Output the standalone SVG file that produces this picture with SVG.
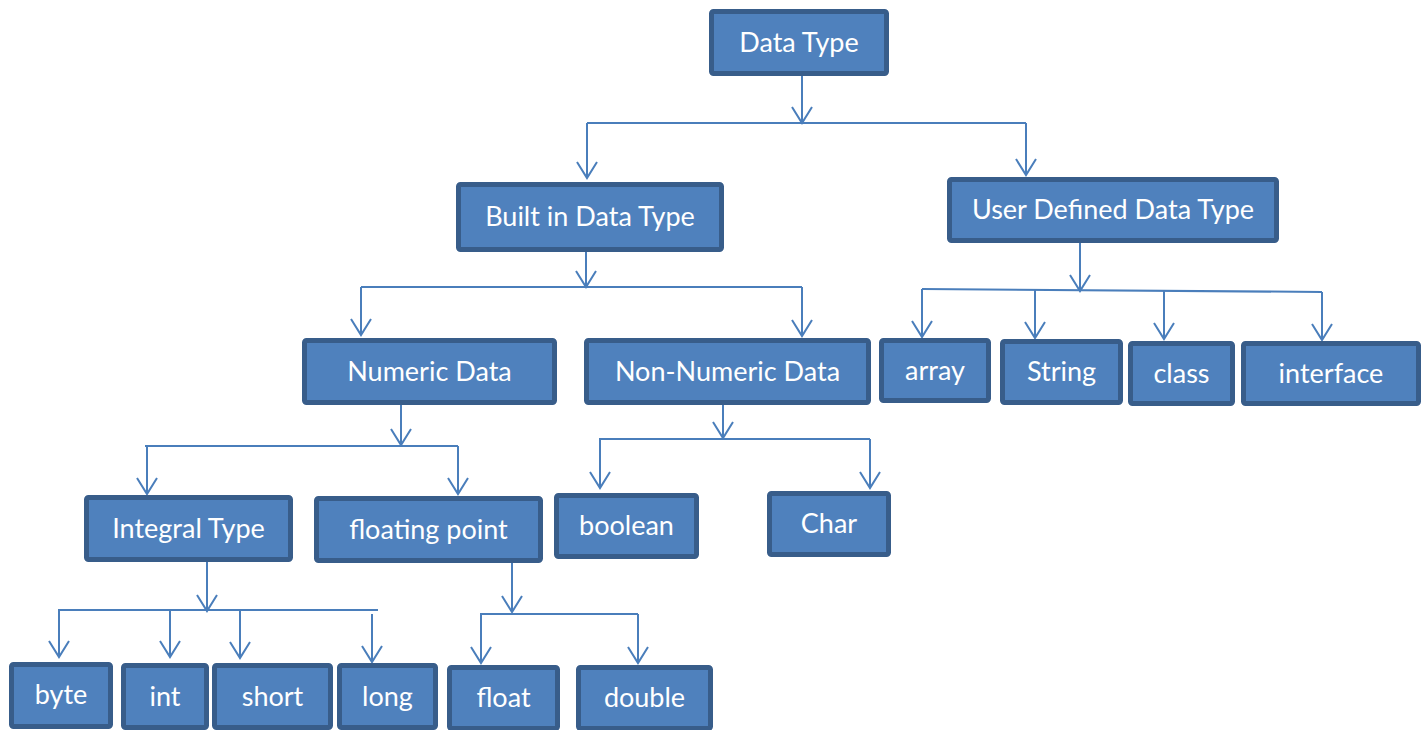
<svg xmlns="http://www.w3.org/2000/svg" width="1422" height="730" viewBox="0 0 1422 730">
<style>
.box{fill:#4F81BD;stroke:#385D8A;stroke-width:5}
.lbl{fill:#FFFFFF;font-family:Lato,"Open Sans","Liberation Sans",sans-serif;font-size:27px;text-anchor:middle}
.c{fill:none;stroke:#4A7EBB;stroke-width:2}
.a{marker-end:url(#arr)}
</style>
<defs>
<marker id="arr" markerUnits="userSpaceOnUse" orient="auto" markerWidth="20" markerHeight="24" refX="18" refY="11" viewBox="0 0 20 24" overflow="visible">
<path d="M2,1 L18,11 L2,21" fill="none" stroke="#4A7EBB" stroke-width="2"/>
</marker>
</defs>
<rect width="1422" height="730" fill="#FFFFFF"/>
<g id="connectors">
<path class="c a" d="M802,76 V123"/>
<path class="c" d="M587,123 H1026"/>
<path class="c a" d="M587,123 V178"/>
<path class="c a" d="M1026,123 V175"/>
<path class="c a" d="M586,252 V287"/>
<path class="c" d="M361,287 H802"/>
<path class="c a" d="M361,287 V335"/>
<path class="c a" d="M802,287 V336"/>
<path class="c a" d="M1080,243 V291"/>
<path class="c" d="M922,289 L1322,292"/>
<path class="c a" d="M922,289 V337"/>
<path class="c a" d="M1035,290 V338"/>
<path class="c a" d="M1164,291 V339"/>
<path class="c a" d="M1322,292 V340"/>
<path class="c a" d="M401,405 V445"/>
<path class="c" d="M145,446 H458"/>
<path class="c a" d="M147,446 V494"/>
<path class="c a" d="M458,446 V494"/>
<path class="c a" d="M723,405 V438"/>
<path class="c" d="M599,439 H870"/>
<path class="c a" d="M600,439 V488"/>
<path class="c a" d="M870,439 V488"/>
<path class="c a" d="M207,562 V611"/>
<path class="c" d="M58,610 H378"/>
<path class="c a" d="M59,610 V657"/>
<path class="c a" d="M170,610 V657"/>
<path class="c a" d="M240,610 V658"/>
<path class="c a" d="M372,614 V662"/>
<path class="c a" d="M512,563 V612"/>
<path class="c" d="M480,614 H638"/>
<path class="c a" d="M481,614 V663"/>
<path class="c a" d="M638,614 V663"/>
</g>
<g id="data-type"><rect class="box" x="711.5" y="11.5" width="175" height="62" rx="2"/><text class="lbl" x="799" y="52">Data Type</text></g>
<g id="built-in"><rect class="box" x="458.5" y="184.5" width="263" height="65" rx="2"/><text class="lbl" x="590" y="226">Built in Data Type</text></g>
<g id="user-defined"><rect class="box" x="949.5" y="179.5" width="327" height="61" rx="2"/><text class="lbl" x="1113" y="219">User Defined Data Type</text></g>
<g id="numeric"><rect class="box" x="304.5" y="340.5" width="250" height="62" rx="2"/><text class="lbl" x="429.5" y="381">Numeric Data</text></g>
<g id="non-numeric"><rect class="box" x="586.5" y="340.5" width="282" height="62" rx="2"/><text class="lbl" x="727.5" y="381">Non-Numeric Data</text></g>
<g id="array"><rect class="box" x="881.5" y="340.5" width="107" height="60" rx="2"/><text class="lbl" x="935" y="380">array</text></g>
<g id="string"><rect class="box" x="1002.5" y="341.5" width="118" height="61" rx="2"/><text class="lbl" x="1061.5" y="381">String</text></g>
<g id="class"><rect class="box" x="1130.5" y="343.5" width="102" height="60" rx="2"/><text class="lbl" x="1181.5" y="383">class</text></g>
<g id="interface"><rect class="box" x="1243.5" y="343.5" width="175" height="60" rx="2"/><text class="lbl" x="1331" y="383">interface</text></g>
<g id="integral"><rect class="box" x="86.5" y="497.5" width="204" height="62" rx="2"/><text class="lbl" x="188.5" y="538">Integral Type</text></g>
<g id="floating"><rect class="box" x="316.5" y="498.5" width="224" height="62" rx="2"/><text class="lbl" x="428.5" y="539">floating point</text></g>
<g id="boolean"><rect class="box" x="556.5" y="495.5" width="140" height="61" rx="2"/><text class="lbl" x="626.5" y="535">boolean</text></g>
<g id="char"><rect class="box" x="769.5" y="493.5" width="119" height="61" rx="2"/><text class="lbl" x="829" y="533">Char</text></g>
<g id="byte"><rect class="box" x="11.5" y="664.5" width="99" height="62" rx="2"/><text class="lbl" x="61" y="704">byte</text></g>
<g id="int"><rect class="box" x="123.5" y="665.5" width="83" height="62" rx="2"/><text class="lbl" x="165" y="706">int</text></g>
<g id="short"><rect class="box" x="214.5" y="665.5" width="116" height="62" rx="2"/><text class="lbl" x="272.5" y="706">short</text></g>
<g id="long"><rect class="box" x="339.5" y="665.5" width="96" height="62" rx="2"/><text class="lbl" x="387.5" y="706">long</text></g>
<g id="float"><rect class="box" x="449.5" y="667.5" width="108" height="61" rx="2"/><text class="lbl" x="503.5" y="707">float</text></g>
<g id="double"><rect class="box" x="578.5" y="667.5" width="132" height="61" rx="2"/><text class="lbl" x="644.5" y="707">double</text></g>
</svg>
